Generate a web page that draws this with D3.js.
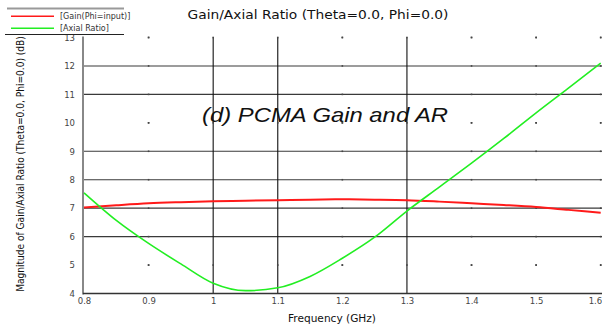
<!DOCTYPE html>
<html>
<head>
<meta charset="utf-8">
<script src="https://cdn.jsdelivr.net/npm/d3@7"></script>
<style>
  html, body { margin: 0; padding: 0; background: #fff; }
  svg { display: block; }
</style>
</head>
<body>
<svg id="chart" width="602" height="324"></svg>
<script>
// Frequency sweep (GHz)
const freq = [0.80, 0.85, 0.90, 0.95, 1.00, 1.05, 1.10, 1.15, 1.20, 1.25, 1.30, 1.35, 1.40, 1.45, 1.50, 1.55, 1.60];
// Gain (dB)
const gain = [7.02, 7.10, 7.17, 7.21, 7.24, 7.26, 7.28, 7.30, 7.31, 7.30, 7.28, 7.23, 7.17, 7.11, 7.04, 6.94, 6.84];
// Axial ratio (dB)
const axialRatio = [7.54, 6.57, 5.76, 5.04, 4.36, 4.10, 4.20, 4.60, 5.24, 5.98, 6.90, 7.74, 8.58, 9.45, 10.35, 11.22, 12.10];

const xTicks = [0.8, 0.9, 1.0, 1.1, 1.2, 1.3, 1.4, 1.5, 1.6];
const xTickLabels = ["0.8", "0.9", "1", "1.1", "1.2", "1.3", "1.4", "1.5", "1.6"];
const yTicks = [4, 5, 6, 7, 8, 9, 10, 11, 12, 13];
const solidX = [1.0, 1.1, 1.3];
const solidY = [6, 7, 8, 9, 11, 12];
const legendLabels = ["[Gain(Phi=input)]", "[Axial Ratio]"];

const svg = d3.select("#chart");
const x = d3.scaleLinear().domain([0.8, 1.6]).range([84, 600.7]);
const y = d3.scaleLinear().domain([4, 13]).range([293.5, 37.5]);

// Grid: solid lines, and dotted lines that only show at tick crossings
const grid = svg.append("g");
grid.selectAll("line.hg").data(solidY).join("line")
  .attr("x1", x(0.8)).attr("x2", 602)
  .attr("y1", d => y(d)).attr("y2", d => y(d))
  .attr("stroke", "#3a3a3a").attr("stroke-width", 1.1);
grid.selectAll("line.vg").data(solidX).join("line")
  .attr("x1", d => x(d)).attr("x2", d => x(d))
  .attr("y1", y(13)).attr("y2", y(4))
  .attr("stroke", "#111").attr("stroke-width", 1.1);

const dotX = xTicks.filter(v => !solidX.some(s => Math.abs(s - v) < 1e-9) && v > 0.8);
const dotY = yTicks.filter(v => !solidY.includes(v) && v > 4);
const dots = [];
dotX.forEach(fx => yTicks.forEach(vy => { if (vy > 4) dots.push([fx, vy]); }));
dotY.forEach(vy => xTicks.forEach(fx => { if (fx > 0.8) dots.push([fx, vy]); }));
grid.selectAll("rect.dot").data(dots).join("rect")
  .attr("x", d => x(d[0]) - 0.8).attr("y", d => y(d[1]) - 0.8)
  .attr("width", 1.6).attr("height", 1.6).attr("fill", "#444");

// Axes
svg.append("line").attr("x1", 83).attr("x2", 83).attr("y1", y(13) - 1).attr("y2", y(4) + 1)
  .attr("stroke", "#888").attr("stroke-width", 2);
svg.append("line").attr("x1", 83).attr("x2", 602).attr("y1", y(4)).attr("y2", y(4))
  .attr("stroke", "#333").attr("stroke-width", 1.4);

const yAxis = d3.axisLeft(y).tickValues(yTicks).tickSize(0).tickPadding(8).tickFormat(d3.format("d"));
const ya = svg.append("g").attr("transform", "translate(83,0)").call(yAxis);
ya.select(".domain").remove();
ya.selectAll("text").attr("font-family", "DejaVu Sans").attr("font-size", 8.5).attr("fill", "#444");

const xAxis = d3.axisBottom(x).tickValues(xTicks).tickSize(0).tickPadding(4)
  .tickFormat((d, i) => xTickLabels[i]);
const xa = svg.append("g").attr("transform", `translate(0,${y(4)})`).call(xAxis);
xa.select(".domain").remove();
xa.selectAll("text").attr("font-family", "DejaVu Sans").attr("font-size", 8.5).attr("fill", "#444");
// keep the last label inside the right edge
xa.selectAll("text").filter(d => d === 1.6).attr("text-anchor", "end").attr("dx", 1);

// Series
const line = d3.line().curve(d3.curveMonotoneX);
svg.append("path")
  .attr("d", line(freq.map((f, i) => [x(f), y(gain[i])])))
  .attr("fill", "none").attr("stroke", "#ff1a1a").attr("stroke-width", 2);
svg.append("path")
  .attr("d", line(freq.map((f, i) => [x(f), y(axialRatio[i])])))
  .attr("fill", "none").attr("stroke", "#22ee22").attr("stroke-width", 1.6);

// Titles
svg.append("text").attr("x", 318).attr("y", 19).attr("text-anchor", "middle")
  .attr("font-family", "DejaVu Sans").attr("font-size", 12.5).attr("fill", "#111")
  .attr("textLength", 261).attr("lengthAdjust", "spacingAndGlyphs")
  .text("Gain/Axial Ratio (Theta=0.0, Phi=0.0)");

svg.append("text").attr("x", 332).attr("y", 322).attr("text-anchor", "middle")
  .attr("font-family", "DejaVu Sans").attr("font-size", 11).attr("fill", "#111")
  .attr("textLength", 88).attr("lengthAdjust", "spacingAndGlyphs")
  .text("Frequency (GHz)");

// Y label: condensed horizontally to fit the plot height
const yLab = svg.append("text").attr("text-anchor", "middle")
  .attr("font-family", "DejaVu Sans").attr("font-size", 11).attr("fill", "#111")
  .text("Magnitude of Gain/Axial Ratio (Theta=0.0, Phi=0.0) (dB)");
const natural = yLab.node().getComputedTextLength();
const sx = 256 / natural;
yLab.attr("transform", `translate(24,164) rotate(-90) scale(${sx},1)`);

svg.append("text").attr("x", 202).attr("y", 122)
  .attr("font-family", "Liberation Sans").attr("font-style", "italic").attr("font-size", 21).attr("fill", "#111")
  .attr("textLength", 246).attr("lengthAdjust", "spacingAndGlyphs")
  .text("(d) PCMA Gain and AR");

// Legend
const lg = svg.append("g");
lg.append("line").attr("x1", 7).attr("x2", 124).attr("y1", 8.5).attr("y2", 8.5)
  .attr("stroke", "#999").attr("stroke-width", 2);
lg.append("line").attr("x1", 5).attr("x2", 124).attr("y1", 34.5).attr("y2", 34.5)
  .attr("stroke", "#222").attr("stroke-width", 1.2);
const colors = ["#ff1a1a", "#22ee22"];
legendLabels.forEach((lab, i) => {
  const yy = 16.3 + i * 12;
  lg.append("line").attr("x1", 11).attr("x2", 54).attr("y1", yy).attr("y2", yy)
    .attr("stroke", colors[i]).attr("stroke-width", 1.5);
  lg.append("text").attr("x", 60).attr("y", yy + 3).attr("font-family", "DejaVu Sans")
    .attr("font-size", 8).attr("fill", "#333").text(lab);
});
</script>
</body>
</html>
